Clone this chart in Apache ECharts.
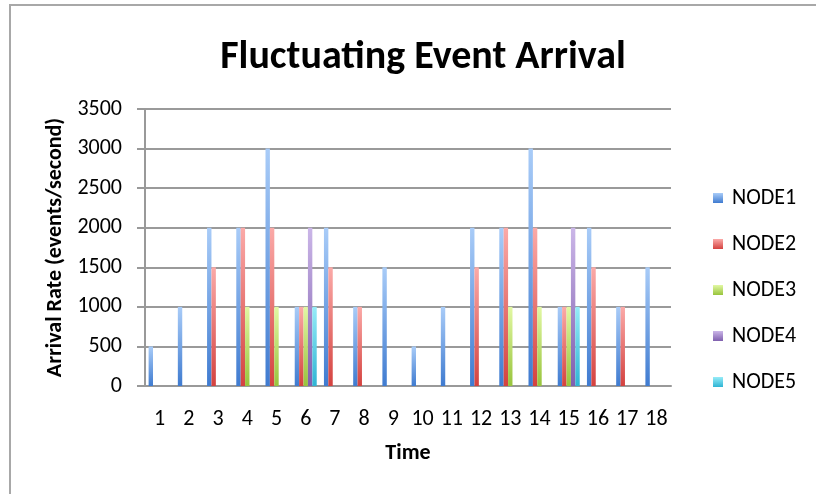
<!DOCTYPE html>
<html>
<head>
<meta charset="utf-8">
<script src="https://cdn.jsdelivr.net/npm/echarts@6/dist/echarts.min.js"></script>
<style>
html,body{margin:0;padding:0;background:#fff;}
#chart{width:816px;height:494px;}
</style>
</head>
<body>
<div id="chart"></div>
<script>
const categories = ['1','2','3','4','5','6','7','8','9','10','11','12','13','14','15','16','17','18'];
const node1 = [500,1000,2000,2000,3000,1000,2000,1000,1500,500,1000,2000,2000,3000,1000,2000,1000,1500];
const node2 = [0,0,1500,2000,2000,1000,1500,1000,0,0,0,1500,2000,2000,1000,1500,1000,0];
const node3 = [0,0,0,1000,1000,1000,0,0,0,0,0,0,1000,1000,1000,0,0,0];
const node4 = [0,0,0,0,0,2000,0,0,0,0,0,0,0,0,2000,0,0,0];
const node5 = [0,0,0,0,0,1000,0,0,0,0,0,0,0,0,1000,0,0,0];
const seriesNames = ['NODE1','NODE2','NODE3','NODE4','NODE5'];
const yTicks = [0,500,1000,1500,2000,2500,3000,3500];

const FONT = "Carlito, 'Open Sans', sans-serif";
const palette = [
  ['#a9ccf8','#3f7bd0'],
  ['#fbaaa8','#d4423f'],
  ['#e2f8a4','#98c43c'],
  ['#cbb6e8','#7f5fae'],
  ['#96ecf8','#2fb4d4']
];
function grad(p){
  return new echarts.graphic.LinearGradient(0,0,0,1,[{offset:0,color:p[0]},{offset:1,color:p[1]}]);
}
const dataSets = [node1,node2,node3,node4,node5];
const chart = echarts.init(document.getElementById('chart'), null, {renderer:'canvas'});
chart.setOption({
  animation:false,
  backgroundColor:'#fff',
  title:{text:'Fluctuating Event Arrival', left:418, top:33,
    textAlign:'center',
    textStyle:{fontFamily:FONT, fontSize:40, fontWeight:'bold', color:'#000'}},
  graphic:[{type:'rect', shape:{x:10,y:5,width:820,height:500},
    style:{fill:'none', stroke:'#a8a8a8', lineWidth:2}, silent:true}],
  legend:{orient:'vertical', left:713, top:187, padding:0, itemGap:24, itemWidth:10, itemHeight:10,
    icon:'rect', data:seriesNames,
    textStyle:{fontFamily:FONT, fontSize:22, color:'#000', padding:[0,0,0,4]}},
  grid:{left:145, right:145, top:109, bottom:108, containLabel:false},
  xAxis:{type:'category', data:categories, name:'Time', nameLocation:'middle', nameGap:56,
    nameTextStyle:{fontFamily:FONT, fontSize:22, fontWeight:'bold', color:'#000'},
    axisLine:{lineStyle:{color:'#999', width:2}}, axisTick:{show:false},
    axisLabel:{fontFamily:FONT, fontSize:22, color:'#000', margin:22, interval:0}},
  yAxis:{type:'value', min:0, max:3500, interval:500,
    name:'Arrival Rate (events/second)', nameLocation:'middle', nameGap:66, nameRotate:90,
    nameTextStyle:{fontFamily:FONT, fontSize:22, fontWeight:'bold', color:'#000'},
    axisLine:{show:true, lineStyle:{color:'#999', width:2}},
    axisTick:{show:true, length:8, lineStyle:{color:'#999', width:2}},
    axisLabel:{fontFamily:FONT, fontSize:22, color:'#000', margin:23,
      formatter:function(v){return yTicks.indexOf(v)>=0 ? String(v) : '';}},
    splitLine:{lineStyle:{color:'#9a9a9a', width:2}}},
  series: seriesNames.map((n,i)=>({
    name:n, type:'bar', data:dataSets[i], barWidth:4.4, barGap:'0%',
    itemStyle:{color:grad(palette[i])}
  }))
});
</script>
</body>
</html>
